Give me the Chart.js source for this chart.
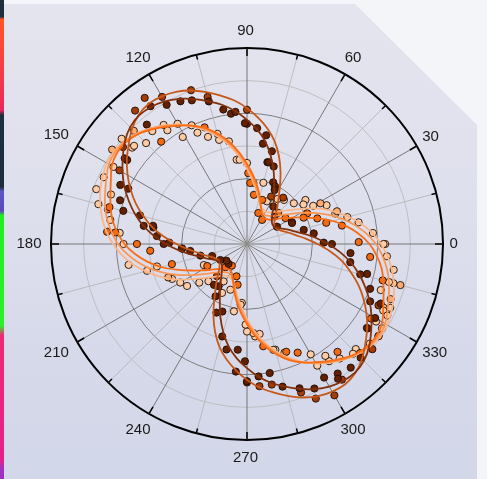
<!DOCTYPE html>
<html>
<head>
<meta charset="utf-8">
<script src="https://cdn.jsdelivr.net/npm/chart.js@4.4.1/dist/chart.umd.min.js"></script>
<style>
  html, body { margin: 0; padding: 0; width: 487px; height: 479px; overflow: hidden; background: #f4f5f9; }
  #strip { position: absolute; left: 0; top: 0; width: 4px; height: 479px;
    background: linear-gradient(180deg, #1f2e3c 0%, #1f2e3c 3.5%, #ff5428 4%, #f23a4c 16%, #e8285a 23%, #1d2f3f 24%, #1d2f3f 39%, #5e58c8 40%, #5a48b8 44%, #22ee22 45%, #2cf02c 68%, #ee2a74 70%, #e6208a 96%, #a032c0 98%, #9a30c0 100%); }
  #panel { position: absolute; left: 4px; top: 4px; width: 473px; height: 475px;
    clip-path: polygon(0 0, 351px 0, 473px 121px, 473px 100%, 0 100%);
    background: linear-gradient(180deg, #e4e4ee 0%, #dfe0ed 40%, #d6d9ea 75%, #d2d7e9 100%); }
  #wrap { position: absolute; left: 0; top: 0; width: 487px; height: 479px; }
</style>
</head>
<body>
<div id="strip"></div>
<div id="panel"></div>
<div id="wrap"><canvas id="c"></canvas></div>
<script>
// Angular tick labels (degrees, counter-clockwise from the right)
const angleLabels = [0, 30, 60, 90, 120, 150, 180, 210, 240, 270, 300, 330];

// Fitted curves: radius every 5 degrees, 0..355
const fitDark = [2.48,2.12,1.78,1.50,1.30,1.14,1.03,0.98,1.00,1.08,1.21,1.40,1.65,1.97,2.38,2.80,3.20,3.52,3.80,4.08,4.32,4.52,4.72,4.90,5.04,5.12,5.14,5.06,4.88,4.64,4.40,4.14,3.85,3.55,3.22,2.86,
                 2.48,2.12,1.78,1.50,1.30,1.14,1.03,0.98,1.00,1.08,1.21,1.40,1.65,1.97,2.38,2.80,3.20,3.52,3.80,4.08,4.32,4.52,4.72,4.90,5.04,5.12,5.14,5.06,4.88,4.64,4.40,4.14,3.85,3.55,3.22,2.86];
const fitBrown = [2.16,1.82,1.53,1.33,1.16,1.05,1.00,1.02,1.10,1.23,1.43,1.68,2.01,2.43,2.86,3.26,3.59,3.88,4.16,4.41,4.61,4.81,5.00,5.14,5.22,5.24,5.16,4.98,4.73,4.49,4.22,3.93,3.62,3.28,2.94,2.55,
                  2.16,1.82,1.53,1.33,1.16,1.05,1.00,1.02,1.10,1.23,1.43,1.68,2.01,2.43,2.86,3.26,3.59,3.88,4.16,4.41,4.61,4.81,5.00,5.14,5.22,5.24,5.16,4.98,4.73,4.49,4.22,3.93,3.62,3.28,2.94,2.55];
const fitOrange = [3.75,3.45,3.10,2.72,2.30,1.92,1.62,1.38,1.20,1.06,0.98,0.95,0.97,1.06,1.24,1.50,1.80,2.12,2.45,2.82,3.18,3.50,3.78,4.00,4.18,4.38,4.57,4.74,4.84,4.86,4.78,4.60,4.45,4.32,4.18,3.98,
                   3.75,3.45,3.10,2.72,2.30,1.92,1.62,1.38,1.20,1.06,0.98,0.95,0.97,1.06,1.24,1.50,1.80,2.12,2.45,2.82,3.18,3.50,3.78,4.00,4.18,4.38,4.57,4.74,4.84,4.86,4.78,4.60,4.45,4.32,4.18,3.98];
const fitLight = [3.95,3.67,3.35,3.00,2.62,2.25,1.90,1.60,1.38,1.22,1.12,1.06,1.05,1.10,1.22,1.44,1.72,2.04,2.38,2.75,3.12,3.45,3.75,4.00,4.20,4.41,4.60,4.77,4.88,4.92,4.88,4.75,4.62,4.50,4.35,4.16,
                  3.95,3.67,3.35,3.00,2.62,2.25,1.90,1.60,1.38,1.22,1.12,1.06,1.05,1.10,1.22,1.44,1.72,2.04,2.38,2.75,3.12,3.45,3.75,4.00,4.20,4.41,4.60,4.77,4.88,4.92,4.88,4.75,4.62,4.50,4.35,4.16];
const fitPeach = [4.10,3.85,3.55,3.22,2.88,2.55,2.18,1.85,1.60,1.42,1.28,1.18,1.15,1.17,1.24,1.40,1.65,1.95,2.30,2.68,3.05,3.40,3.70,3.98,4.22,4.43,4.62,4.78,4.90,4.96,4.95,4.88,4.78,4.65,4.50,4.32,
                  4.10,3.85,3.55,3.22,2.88,2.55,2.18,1.85,1.60,1.42,1.28,1.18,1.15,1.17,1.24,1.40,1.65,1.95,2.30,2.68,3.05,3.40,3.70,3.98,4.22,4.43,4.62,4.78,4.90,4.96,4.95,4.88,4.78,4.65,4.50,4.32];

// Measured samples: angle (deg) and radius
const darkTheta = [115.1,104.9,125.1,120.1,110.8,100.1,97.3,90,80.1,80.6,74.9,67.1,63.3,130,95.1,145.3,145.1,154.9,154.7,164.5,164.6,169.4,170.3,174.5,179.3,183.5,90.8,85.1,74.9,71.1,63.8,160.7,
  75.8,55.3,45.3,29.5,14.2,9.4,0.7,0,25,
  169.7,180,184.4,187.4,194,198.5,210.5,219,227.4,236.2,238.8,245.6,254.9,230.6,
  249.6,259.3,264.6,264.8,270,
  350.4,344.8,345.6,340.4,335,330,325,314.8,309.8,305.4,303.6,299.8,295.4,290.3,284.4,280.2,275,269.2,355,335.5];
const darkR = [4.82,4.52,5.15,4.92,4.71,4.18,4.02,3.68,3.38,3.11,2.59,2.05,1.86,4.77,4.06,4.57,4.48,4.28,4.01,3.92,3.39,2.93,3.21,2.77,2.38,1.99,3.70,3.56,2.94,2.51,1.96,4.11,
  2.58,1.40,1.19,1.06,1.79,2.07,2.35,2.60,1.52,
  2.91,2.55,2.00,1.75,1.47,1.13,0.95,0.81,0.83,1.56,1.87,2.30,2.93,1.61,
  2.20,3.29,3.25,3.92,4.20,
  3.21,3.59,3.79,4.01,4.16,4.53,4.48,4.92,4.94,4.84,4.98,4.72,4.88,4.70,4.50,4.01,4.07,3.59,3.18,4.48];

const brownTheta = [110,125.1,120.1,105.2,130,90.3,141.6,149.7,25.6,51.5,63.2,335.2,319.8,294.4,299.7,289.7,274.7,269.7,304.9,280.1,227.2];
const brownR = [5.01,5.46,5.20,4.66,5.33,4.11,4.82,4.51,1.53,1.80,1.63,4.44,5.01,5.18,5.35,4.84,4.37,4.24,5.07,4.37,1.35];

const orangeTheta = [110.1,130,164.7,175.1,180,144.9,166.2,174.5,88.7,71.3,
  69.5,58.3,44.5,34.2,24.7,20.4,86.9,82.4,14.8,10.5,0.5,27.3,
  195.4,226.7,251.7,257,184.4,208.5,235.3,
  354.3,328.5,316.1,290.4,279.3,294.6,309.7,345.3,324.5];
const orangeR = [3.80,4.09,4.36,4.30,3.37,4.49,4.39,4.05,2.17,1.43,
  1.01,0.87,1.35,1.42,1.91,2.29,1.87,1.52,2.51,2.96,3.42,2.07,
  2.38,0.97,1.04,1.28,2.97,1.39,0.81,
  3.79,4.43,4.81,3.51,3.17,3.67,4.31,4.30,4.51];

const lightTheta = [134.8,145.1,345.1,325,338.8,29.2,203.4,19.9];
const lightR = [4.90,5.04,4.86,4.92,4.71,2.57,2.62,2.93];

const peachTheta = [125,120,115.3,130.2,125.2,120.5,114.2,110.2,104.9,104.7,134.9,139.3,140.1,140.1,155,160,160.1,164.8,170.2,175.1,179.5,149.8,100.2,96.8,
  74.8,64.8,56.3,50.4,41.3,34.8,29.5,25.6,19.3,83.8,90,95,37.2,15.4,10.7,5.3,0.4,
  205.5,194.3,209.9,214.8,219.4,238,250,263.7,270,278.4,189.6,195.3,205,224.2,243,258.8,
  0,355,350.1,344.6,340.5,334.3,328.1,321.2,314.4,309.3,305,299.8,284.2,274.3,315.7,304.8,299.9,288.6,285,275.1,268.8,265.2,345.1,335.5,334.5,332.7,329.1,324.5];
const peachR = [4.45,4.25,4.01,4.51,4.25,3.82,3.73,3.49,3.49,3.30,4.37,4.58,4.59,5.01,4.84,4.91,4.43,4.71,4.25,3.91,3.78,4.72,3.19,2.60,
  1.94,1.44,1.66,1.76,1.90,2.11,2.34,2.71,2.86,1.88,2.48,2.59,2.24,3.18,3.48,3.87,4.18,
  1.47,2.84,2.36,2.24,1.88,1.35,1.49,1.87,2.68,2.78,3.68,3.17,2.53,1.64,1.68,2.10,
  4.23,4.30,4.56,4.50,4.33,4.64,4.87,4.84,4.67,4.51,4.18,3.90,3.34,2.73,4.63,4.38,4.30,3.52,3.35,2.84,2.47,1.81,4.64,4.80,4.61,4.82,4.61,4.91];

// One radar spoke per degree; spoke i sits at (90 - i) degrees so angles run counter-clockwise from the right.
const N = 360;
const labels = Array.from({ length: N }, (_, i) => String((90 - i + 360) % 360));
const spokeIndex = deg => (((90 - Math.round(deg)) % 360) + 360) % 360;

function curveData(values) {
  const arr = new Array(N).fill(null);
  values.forEach((r, k) => { arr[spokeIndex(k * 5)] = r; });
  return arr;
}
// Samples sharing a spoke go into extra layers so none is lost
function pointLayers(thetas, radii) {
  const layers = [];
  thetas.forEach((t, k) => {
    const i = spokeIndex(t);
    let layer = layers.find(a => a[i] === null);
    if (!layer) { layer = new Array(N).fill(null); layers.push(layer); }
    layer[i] = radii[k];
  });
  return layers;
}

const series = [
  { theta: darkTheta, r: darkR, fit: fitDark, fill: '#642002', line: '#84300a' },
  { theta: brownTheta, r: brownR, fit: fitBrown, fill: '#a63c08', line: '#c6581a' },
  { theta: orangeTheta, r: orangeR, fit: fitOrange, fill: '#f26a12', line: '#fa6c14' },
  { theta: lightTheta, r: lightR, fit: fitLight, fill: '#fcaa70', line: '#fd9552' },
  { theta: peachTheta, r: peachR, fit: fitPeach, fill: '#fdcca6', line: '#fdb486' }
];

const datasets = [];
series.forEach(s => {
  datasets.push({
    data: curveData(s.fit), borderColor: s.line, borderWidth: 1.8, pointRadius: 0,
    fill: false, spanGaps: true, tension: 0.35, order: 0
  });
});
series.forEach(s => {
  pointLayers(s.theta, s.r).forEach(layer => {
    datasets.push({
      data: layer, showLine: false, fill: false, spanGaps: true,
      pointRadius: 3.6, pointBackgroundColor: s.fill, pointBorderColor: '#1c0c02',
      pointBorderWidth: 0.9, order: 1
    });
  });
});

// Outer ring ticks and the angle labels
const polarFrame = {
  id: 'polarFrame',
  afterDatasetsDraw(chart) {
    const sc = chart.scales.r;
    const ctx = chart.ctx;
    const R = sc.drawingArea;
    ctx.save();
    ctx.strokeStyle = '#000';
    ctx.lineWidth = 1.5;
    for (let a = 0; a < 360; a += 15) {
      const len = a % 30 === 0 ? 8 : 5;
      const p1 = sc.getPointPosition(spokeIndex(a), R);
      const p2 = sc.getPointPosition(spokeIndex(a), R - len);
      ctx.beginPath(); ctx.moveTo(p1.x, p1.y); ctx.lineTo(p2.x, p2.y); ctx.stroke();
    }
    ctx.fillStyle = '#1a1a1a';
    ctx.font = '15px "Liberation Sans", Arial, sans-serif';
    ctx.textAlign = 'center';
    ctx.textBaseline = 'middle';
    const boxH = 19;
    angleLabels.forEach(a => {
      const text = String(a);
      const w = ctx.measureText(text).width;
      const rad = a * Math.PI / 180;
      const c = Math.abs(Math.cos(rad)), s = Math.abs(Math.sin(rad));
      const edge = Math.min(c > 1e-6 ? (w / 2) / c : Infinity, s > 1e-6 ? (boxH / 2) / s : Infinity);
      const p = sc.getPointPosition(spokeIndex(a), R + 8 + edge);
      ctx.fillText(text, p.x - 1.5, p.y);
    });
    ctx.restore();
  }
};

new Chart(document.getElementById('c'), {
  type: 'radar',
  data: { labels, datasets },
  options: {
    responsive: true,
    maintainAspectRatio: false,
    animation: false,
    layout: { padding: { left: 51, right: 44, top: 48, bottom: 39 } },
    plugins: { legend: { display: false }, tooltip: { enabled: false } },
    scales: {
      r: {
        min: 0, max: 6, startAngle: 0,
        ticks: { display: false, stepSize: 1 },
        pointLabels: { display: false },
        grid: {
          circular: true,
          color: c => c.tick.value === 6 ? '#000' : (c.tick.value % 2 === 0 ? '#7e7e7e' : '#b6b6b6'),
          lineWidth: c => c.tick.value === 6 ? 2 : (c.tick.value % 2 === 0 ? 1 : 0.8)
        },
        angleLines: {
          color: c => c.index % 30 === 0 ? '#767676' : '#b2b2b2',
          lineWidth: c => c.index % 30 === 0 ? 1 : (c.index % 15 === 0 ? 0.8 : 0)
        }
      }
    }
  },
  plugins: [polarFrame]
});
</script>
</body>
</html>
